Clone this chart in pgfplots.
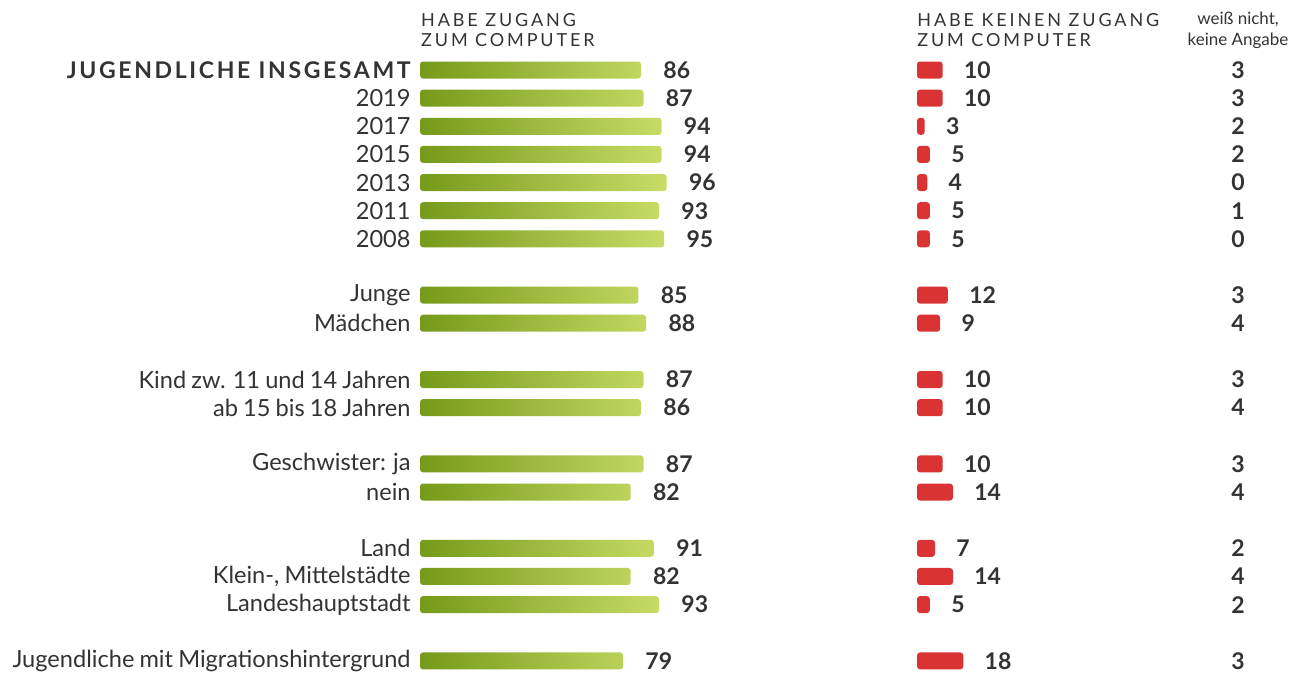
\documentclass[border=0pt]{standalone}
\usepackage{fontspec}
\setmainfont{Lato}
\newfontfamily\hdr[LetterSpace=16]{Lato}
\newfontfamily\ttl[LetterSpace=11.5]{Lato}
\newfontfamily\lbl[WordSpace=0.85]{Lato}
\usepackage{pgfplots}
\usepackage{pgfplotstable}
\pgfplotsset{compat=1.18}
\definecolor{gdark}{HTML}{769A1A}
\definecolor{glight}{HTML}{C9DD66}
\definecolor{rbar}{HTML}{DA3333}
\definecolor{txt}{HTML}{333333}
\pgfplotstableread{
i g r k
0 86 10 3
1 87 10 3
2 94 3 2
3 94 5 2
4 96 4 0
5 93 5 1
6 95 5 0
8 85 12 3
9 88 9 4
11 87 10 3
12 86 10 4
14 87 10 3
15 82 14 4
17 91 7 2
18 82 14 4
19 93 5 2
21 79 18 3
}\data
\begin{document}
\begin{tikzpicture}[x=1pt,y=1pt]
\useasboundingbox (0,0) rectangle (647,336.5);
\pgfplotsset{common/.style={
 at={(210pt,0pt)}, anchor=south west, scale only axis, width=437pt, height=336.5pt,
 ymin=-2.488, ymax=21.43, y dir=reverse, clip=false,
 axis line style={draw=none}, major tick length=0pt, xtick=\empty,
 /pgf/number format/assume math mode=true,
 bar width=8.5pt,
 every node near coord/.append style={anchor=west, inner sep=0pt, font=\bfseries\fontsize{11.5}{13}\selectfont, text=txt},
}}
\begin{axis}[common,
 xmin=0, xmax=340.08,
 ytick={0,1,2,3,4,5,6,8,9,11,12,14,15,17,18,19,21},
 yticklabels={{\bfseries\ttl\fontsize{11.5}{13}\selectfont JUGENDLICHE INSGESAMT},2019,2017,2015,2013,2011,2008,Junge,Mädchen,Kind zw. 11 und 14 Jahren,ab 15 bis 18 Jahren,Geschwister: ja,nein,Land,{Klein-, Mittelstädte},Landeshauptstadt,Jugendliche mit Migrationshintergrund},
 yticklabel style={inner sep=0pt, xshift=-4.5pt, font=\lbl\fontsize{11.8}{13}\selectfont, text=txt},
]
\addplot[xbar, draw=none, left color=gdark, right color=glight, rounded corners=1.5pt,
 nodes near coords, every node near coord/.append style={xshift=11pt}] table[x=g,y=i]{\data};
\node[anchor=base west, inner sep=0pt, font=\hdr\fontsize{9}{10}\selectfont, text=txt] at (axis cs:0.3,-1.53) {HABE ZUGANG};
\node[anchor=base west, inner sep=0pt, font=\hdr\fontsize{9}{10}\selectfont, text=txt] at (axis cs:0.3,-0.82) {ZUM COMPUTER};
\end{axis}
\begin{axis}[common,
 xmin=-193.39, xmax=146.69, ytick=\empty,
]
\addplot[xbar, draw=none, fill=rbar, rounded corners=1.5pt,
 nodes near coords, every node near coord/.append style={xshift=10.5pt}] table[x=r,y=i]{\data};
\addplot[draw=none, mark=none, nodes near coords, point meta=explicit symbolic,
 every node near coord/.append style={anchor=center, xshift=0pt}] table[x expr=124.9, y=i, meta=k]{\data};
\node[anchor=base west, inner sep=0pt, font=\hdr\fontsize{9}{10}\selectfont, text=txt] at (axis cs:0,-1.53) {HABE KEINEN ZUGANG};
\node[anchor=base west, inner sep=0pt, font=\hdr\fontsize{9}{10}\selectfont, text=txt] at (axis cs:0,-0.82) {ZUM COMPUTER};
\node[anchor=base, inner sep=0pt, font=\fontsize{8.5}{10}\selectfont, text=txt] at (axis cs:124.9,-1.62) {weiß nicht,};
\node[anchor=base, inner sep=0pt, font=\fontsize{8.5}{10}\selectfont, text=txt] at (axis cs:124.9,-0.87) {keine Angabe};
\end{axis}
\end{tikzpicture}
\end{document}
